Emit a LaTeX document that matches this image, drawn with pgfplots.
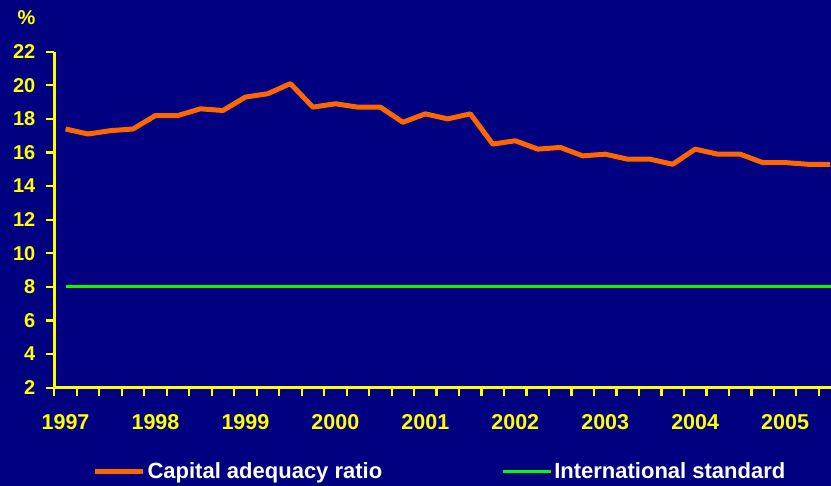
\documentclass[border=0pt]{standalone}
\usepackage{fontspec}
\setmainfont{Liberation Sans}
\usepackage{pgfplots}
\pgfplotsset{compat=1.18}
\definecolor{bgnavy}{RGB}{0,0,128}
\definecolor{axyellow}{RGB}{255,255,0}
\definecolor{caro}{RGB}{255,102,0}
\definecolor{stdgreen}{RGB}{0,255,0}

% quarterly, 0 = 1997 Q1
\pgfplotstableread{
q car
0 17.4
1 17.1
2 17.3
3 17.4
4 18.2
5 18.2
6 18.6
7 18.5
8 19.3
9 19.5
10 20.1
11 18.7
12 18.9
13 18.7
14 18.7
15 17.8
16 18.3
17 18.0
18 18.3
19 16.5
20 16.7
21 16.2
22 16.3
23 15.8
24 15.9
25 15.6
26 15.6
27 15.3
28 16.2
29 15.9
30 15.9
31 15.4
32 15.4
33 15.3
34 15.3
}\cardata

\begin{document}
\begin{tikzpicture}[x=1pt,y=1pt]
  \useasboundingbox (-54.3,-98.3) rectangle (776.7,387.7);
  \fill[bgnavy] (-54.3,-98.3) rectangle (776.7,387.7);
  \begin{axis}[
    name=main,
    at={(0,0)}, anchor=south west, scale only axis,
    width=776.7pt, height=336pt,
    xmin=-0.5, xmax=34.04, ymin=2, ymax=22,
    axis x line=bottom, axis y line=left,
    axis line style={axyellow, line width=3pt, -},
    tick style={axyellow, line width=2.2pt},
    tick align=outside, major tick length=8pt,
    ytick={2,4,...,22},
    xtick={-0.5,0.5,...,33.5},
    xticklabels={1997,,,,1998,,,,1999,,,,2000,,,,2001,,,,2002,,,,2003,,,,2004,,,,2005},
    xticklabel style={xshift=11.24pt, yshift=-15pt, font=\fontsize{21.5}{24}\selectfont\bfseries},
    yticklabel style={xshift=-7.5pt, font=\fontsize{20}{24}\selectfont\bfseries},
    ticklabel style={text=axyellow},
    /pgf/number format/assume math mode=true,
    clip=true,
    legend columns=2,
    legend style={draw=none, fill=none, text=white,
      font=\fontsize{22}{26}\selectfont\bfseries,
      at={(0.4965,-0.248)}, anchor=center,
      /tikz/every even column/.append style={column sep=117pt}},
    legend image code/.code={\draw[#1] (0pt,0pt) -- (48pt,0pt);},
  ]
    \addplot[caro, line width=5pt, line join=round] table[x=q, y=car] {\cardata};
    \addlegendentry{Capital adequacy ratio}
    \addplot[stdgreen, line width=3pt] coordinates {(0,8) (35,8)};
    \addlegendentry{International standard}
  \end{axis}
  \node[anchor=east, text=axyellow, font=\fontsize{20}{24}\selectfont\bfseries,
    inner sep=0pt] at (main.north west) [xshift=-18.6pt, yshift=34pt] {\%};
\end{tikzpicture}
\end{document}
